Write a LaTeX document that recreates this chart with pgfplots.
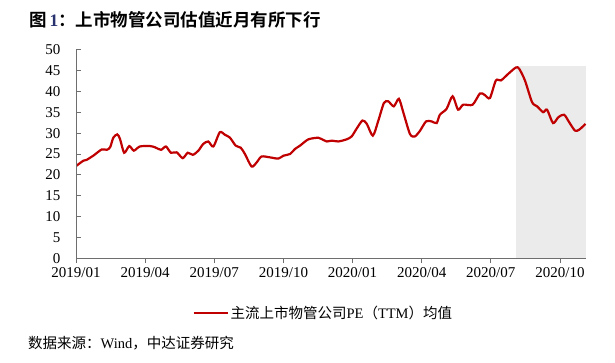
\documentclass[border=0pt]{standalone}
\usepackage{pgfplots}
\pgfplotsset{compat=1.18}
\usepackage{fontspec}
\setmainfont{Liberation Serif}
\newfontfamily\cjk{Noto Sans CJK SC}
\newfontfamily\cjkb{Noto Sans CJK SC Bold}
\definecolor{pered}{RGB}{192,0,0}
\definecolor{shade}{RGB}{235,235,235}
\definecolor{axgray}{RGB}{110,110,110}
\definecolor{numblue}{RGB}{40,50,110}
\pgfplotstableread{
m pe
0 22.1
0.32 23.4
0.46 23.6
0.75 24.6
1.12 26.1
1.33 26.0
1.48 26.6
1.62 28.9
1.79 29.7
1.91 28.6
2.09 25.3
2.31 26.9
2.51 25.8
2.77 26.8
3.21 26.9
3.43 26.6
3.69 26.0
3.90 26.8
4.12 25.3
4.37 25.4
4.63 24.0
4.85 25.3
5.07 24.8
5.31 25.8
5.52 27.4
5.74 28.0
5.96 26.8
6.24 30.2
6.46 29.6
6.68 28.9
6.93 27.0
7.15 26.5
7.33 25.0
7.62 22.0
7.84 23.0
8.05 24.4
8.41 24.2
8.78 23.9
9.00 24.6
9.29 25.0
9.50 26.2
9.72 27.0
10.08 28.5
10.51 28.9
10.65 28.6
10.88 28.0
11.10 28.2
11.38 28.0
11.74 28.5
11.96 29.2
12.17 31.0
12.43 33.0
12.62 32.2
12.88 29.4
13.12 33.0
13.36 37.2
13.55 37.6
13.79 36.4
14.01 38.2
14.20 35.0
14.49 29.8
14.70 29.2
14.92 30.5
15.19 32.8
15.43 32.8
15.65 32.4
15.79 34.4
16.08 35.8
16.34 38.8
16.58 35.6
16.80 36.8
17.21 36.8
17.53 39.5
17.74 39.1
17.96 38.4
18.22 42.6
18.44 42.6
18.76 44.2
19.09 45.7
19.23 45.4
19.48 42.6
19.79 37.4
20.01 36.4
20.27 35.0
20.44 35.6
20.70 32.4
20.93 33.8
21.18 34.4
21.40 32.6
21.65 30.6
21.83 30.8
22.11 32.2
}\pedata
\begin{document}
\begin{tikzpicture}
\path[use as bounding box] (0pt,0pt) rectangle (615pt,362pt);
\node[anchor=west,inner sep=0pt] at (29pt,342pt) {\fontsize{17.5pt}{20pt}\selectfont\cjkb 图\,{\rmfamily\bfseries\color{numblue}1}：上市物管公司估值近月有所下行};
\begin{axis}[
  at={(76pt,103.5pt)}, anchor=south west,
  scale only axis, width=510pt, height=209pt,
  xmin=0, xmax=22.13, ymin=0, ymax=50,
  axis lines=left, axis line style={axgray, line width=0.9pt, -},
  axis on top=true,
  xtick={0,3,6,9,12,15,18,21},
  xticklabels={2019/01,2019/04,2019/07,2019/10,2020/01,2020/04,2020/07,2020/10},
  ytick={0,5,...,50},
  x tick style={axgray, line width=0.9pt},
  y tick style={axgray, line width=0.9pt},
  xtick align=outside, ytick align=inside,
  major tick length=4.5pt,
  tick label style={font=\fontsize{15pt}{17pt}\selectfont},
  /pgf/number format/assume math mode=true,
  yticklabel style={xshift=-12pt},
  xticklabel style={yshift=-1pt},
  legend style={at={(0.485,-0.262)}, anchor=center, draw=none, fill=none,
    font=\fontsize{14.5pt}{17pt}\selectfont, inner sep=0pt},
  legend image code/.code={\draw[pered, line width=2pt] (0pt,0pt) -- (34pt,0pt);},
]
\addplot[fill=shade, draw=none, forget plot] coordinates {(19.09,0) (19.09,46) (22.13,46) (22.13,0)} -- cycle;
\addplot[pered, line width=2.2pt, smooth, tension=0.45] table[x=m, y=pe] {\pedata};
\addlegendentry{\cjk 主流上市物管公司\rmfamily PE\cjk（\rmfamily TTM\cjk）均值}
\end{axis}
\node[anchor=west,inner sep=0pt] at (28pt,19pt) {\fontsize{14.5pt}{17pt}\selectfont\cjk 数据来源：\rmfamily Wind\cjk，中达证券研究};
\end{tikzpicture}
\end{document}
